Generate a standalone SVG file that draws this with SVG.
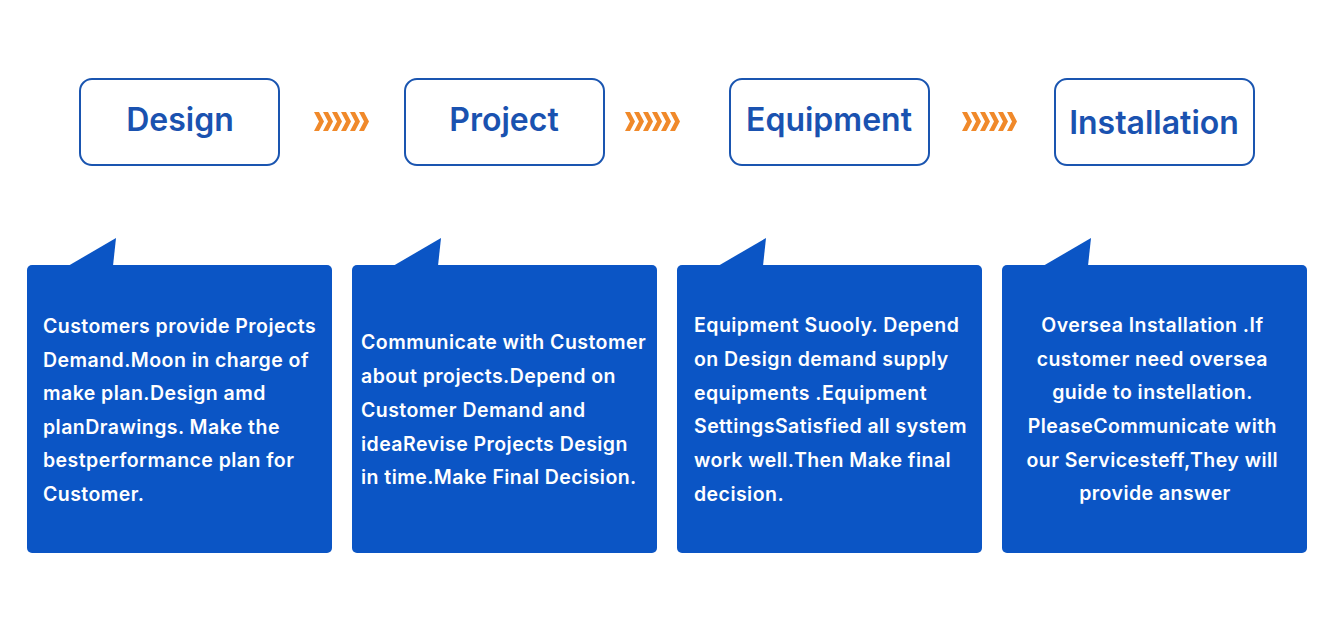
<svg xmlns="http://www.w3.org/2000/svg" width="1334" height="617" viewBox="0 0 1334 617">
<defs>
<style>
.hdr{fill:#fff;stroke:#1a55b0;stroke-width:2}
.htxt{font-family:Inter,"Noto Sans",sans-serif;font-weight:600;font-size:32px;fill:#1a52b0;text-anchor:middle}
.card{fill:#0b55c5}
.ctxt{font-family:Inter,"Noto Sans",sans-serif;font-weight:600;font-size:19.5px;letter-spacing:0.45px;fill:#fff}
.chev{fill:#f0892a}
</style>
<g id="chevrons">
<polygon points="0,0 5,0 10,9.5 5,19 0,19 5,9.5"/>
<polygon points="9,0 14,0 19,9.5 14,19 9,19 14,9.5"/>
<polygon points="18,0 23,0 28,9.5 23,19 18,19 23,9.5"/>
<polygon points="27,0 32,0 37,9.5 32,19 27,19 32,9.5"/>
<polygon points="36,0 41,0 46,9.5 41,19 36,19 41,9.5"/>
<polygon points="45,0 50,0 55,9.5 50,19 45,19 50,9.5"/>
</g>
</defs>
<rect width="1334" height="617" fill="#fff"/>

<g id="connectors" class="chev">
<use href="#chevrons" x="314" y="112"/>
<use href="#chevrons" x="625" y="112"/>
<use href="#chevrons" x="962" y="112"/>
</g>

<g id="node-design">
<rect class="hdr" x="80" y="79" width="199" height="86" rx="12"/>
<text class="htxt" x="180" y="131">Design</text>
</g>
<g id="node-project">
<rect class="hdr" x="405" y="79" width="199" height="86" rx="12"/>
<text class="htxt" x="504" y="131">Project</text>
</g>
<g id="node-equipment">
<rect class="hdr" x="730" y="79" width="199" height="86" rx="12"/>
<text class="htxt" x="829" y="131">Equipment</text>
</g>
<g id="node-installation">
<rect class="hdr" x="1055" y="79" width="199" height="86" rx="12"/>
<text class="htxt" x="1154" y="134">Installation</text>
</g>

<g id="card-design">
<polygon class="card" points="68,266 116,238 113,266"/>
<rect class="card" x="27" y="265" width="305" height="288" rx="5"/>
<text class="ctxt" x="43">
<tspan x="43" y="333">Customers provide Projects</tspan>
<tspan x="43" y="366.5">Demand.Moon in charge of</tspan>
<tspan x="43" y="400">make plan.Design amd</tspan>
<tspan x="43" y="433.5">planDrawings. Make the</tspan>
<tspan x="43" y="467">bestperformance plan for</tspan>
<tspan x="43" y="500.5">Customer.</tspan>
</text>
</g>
<g id="card-project">
<polygon class="card" points="393,266 441,238 438,266"/>
<rect class="card" x="352" y="265" width="305" height="288" rx="5"/>
<text class="ctxt">
<tspan x="361" y="349">Communicate with Customer</tspan>
<tspan x="361" y="383">about projects.Depend on</tspan>
<tspan x="361" y="417">Customer Demand and</tspan>
<tspan x="361" y="450.5">ideaRevise Projects Design</tspan>
<tspan x="361" y="484">in time.Make Final Decision.</tspan>
</text>
</g>
<g id="card-equipment">
<polygon class="card" points="718,266 766,238 763,266"/>
<rect class="card" x="677" y="265" width="305" height="288" rx="5"/>
<text class="ctxt">
<tspan x="694" y="332">Equipment Suooly. Depend</tspan>
<tspan x="694" y="366">on Design demand supply</tspan>
<tspan x="694" y="399.5">equipments .Equipment</tspan>
<tspan x="694" y="433">SettingsSatisfied all system</tspan>
<tspan x="694" y="467">work well.Then Make final</tspan>
<tspan x="694" y="500.5">decision.</tspan>
</text>
</g>
<g id="card-installation">
<polygon class="card" points="1043,266 1091,238 1088,266"/>
<rect class="card" x="1002" y="265" width="305" height="288" rx="5"/>
<text class="ctxt" text-anchor="middle">
<tspan x="1155" y="332">Oversea Installation .If</tspan>
<tspan x="1155" y="365.5">customer need oversea</tspan>
<tspan x="1155" y="399">guide to instellation.</tspan>
<tspan x="1155" y="433">PleaseCommunicate with</tspan>
<tspan x="1155" y="466.5">our Servicesteff,They will</tspan>
<tspan x="1155" y="500">provide answer</tspan>
</text>
</g>
</svg>
